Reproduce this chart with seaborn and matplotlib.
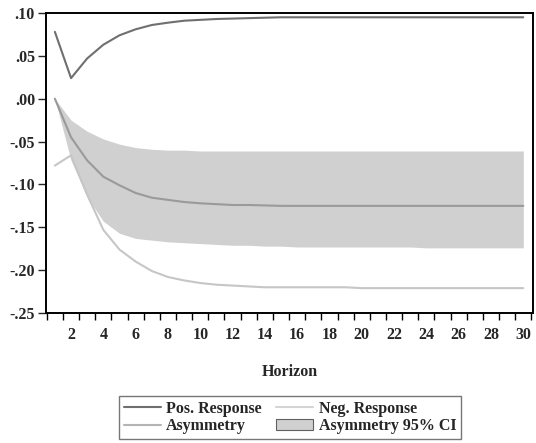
import matplotlib
matplotlib.use("Agg")
import matplotlib.pyplot as plt
from matplotlib.patches import Patch
from matplotlib.lines import Line2D
from matplotlib.ticker import FixedLocator, FuncFormatter
import numpy as np
import pandas as pd
import seaborn as sns

horizon = list(range(1, 31))

pos_response = [0.078, 0.024, 0.047, 0.063, 0.074, 0.081, 0.086, 0.0887, 0.091, 0.092,
                0.093, 0.0935, 0.094, 0.0945, 0.095, 0.095, 0.095, 0.095, 0.095, 0.095,
                0.095, 0.095, 0.095, 0.095, 0.095, 0.095, 0.095, 0.095, 0.095, 0.095]

asymmetry = [0.0, -0.045, -0.072, -0.091, -0.101, -0.110, -0.1155, -0.118, -0.1205, -0.122,
             -0.123, -0.124, -0.124, -0.1245, -0.125, -0.125, -0.125, -0.125, -0.125, -0.125,
             -0.125, -0.125, -0.125, -0.125, -0.125, -0.125, -0.125, -0.125, -0.125, -0.125]

neg_response = [-0.078, -0.066, -0.112, -0.153, -0.176, -0.190, -0.201, -0.208, -0.212, -0.215,
                -0.217, -0.218, -0.219, -0.220, -0.220, -0.220, -0.220, -0.220, -0.220, -0.221,
                -0.221, -0.221, -0.221, -0.221, -0.221, -0.221, -0.221, -0.221, -0.221, -0.221]

ci_upper = [0.0, -0.025, -0.038, -0.047, -0.053, -0.057, -0.059, -0.060, -0.060, -0.061,
            -0.061, -0.061, -0.061, -0.061, -0.061, -0.061, -0.061, -0.061, -0.061, -0.061,
            -0.061, -0.061, -0.061, -0.061, -0.061, -0.061, -0.061, -0.061, -0.061, -0.061]

ci_lower = [0.0, -0.072, -0.115, -0.143, -0.157, -0.163, -0.165, -0.167, -0.168, -0.169,
            -0.170, -0.171, -0.171, -0.172, -0.172, -0.173, -0.173, -0.173, -0.173, -0.173,
            -0.173, -0.173, -0.173, -0.174, -0.174, -0.174, -0.174, -0.174, -0.174, -0.174]

x_tick_labels = [str(v) for v in range(2, 31, 2)]
y_ticks = [0.10, 0.05, 0.00, -0.05, -0.10, -0.15, -0.20, -0.25]

df = pd.DataFrame({
    "Horizon": horizon,
    "Pos. Response": pos_response,
    "Asymmetry": asymmetry,
    "Neg. Response": neg_response,
})

sns.set_style("ticks")
plt.rcParams["font.family"] = ["Liberation Serif", "DejaVu Serif"]
plt.rcParams["font.weight"] = "bold"

c_pos = "#6f6f6f"
c_asym = "#9a9a9a"
c_neg = "#c6c6c6"
c_band = "#d0d0d0"
fs = 11.5

fig = plt.figure(figsize=(5.36, 4.43), dpi=100)
ax = fig.add_axes([46 / 536, 1 - 313 / 443, (533 - 46) / 536, (313 - 13) / 443])

ax.fill_between(horizon, ci_lower, ci_upper, color=c_band, linewidth=0, zorder=1)
sns.lineplot(data=df, x="Horizon", y="Neg. Response", color=c_neg, linewidth=1.5, ax=ax, zorder=2)
sns.lineplot(data=df, x="Horizon", y="Asymmetry", color=c_asym, linewidth=1.5, ax=ax, zorder=3)
sns.lineplot(data=df, x="Horizon", y="Pos. Response", color=c_pos, linewidth=1.5, ax=ax, zorder=4)

ax.set_xlim(0.45, 30.6)
ax.set_ylim(-0.25, 0.10)

# labels at even horizons, tick marks between periods
ax.xaxis.set_major_locator(FixedLocator(list(range(2, 31, 2))))
ax.set_xticklabels(x_tick_labels)
ax.xaxis.set_minor_locator(FixedLocator([v + 0.5 for v in range(0, 31)]))
ax.tick_params(axis="x", which="major", length=0, pad=10, labelsize=fs)
ax.tick_params(axis="x", which="minor", length=5, width=1, direction="out", color="black")

ax.set_yticks(y_ticks)
ax.yaxis.set_major_formatter(FuncFormatter(
    lambda v, p: ("-" if v < -1e-9 else "") + ("%.2f" % abs(v)).lstrip("0")))
ax.tick_params(axis="y", length=6, width=1, direction="out", labelsize=fs, pad=2)

for lab in ax.get_xticklabels() + ax.get_yticklabels():
    lab.set_fontweight("bold")

ax.set_xlabel("Horizon", fontsize=fs, fontweight="bold", labelpad=15)
ax.set_ylabel("")

for side in ["left", "bottom", "top", "right"]:
    ax.spines[side].set_visible(True)
    ax.spines[side].set_linewidth(1.4)
    ax.spines[side].set_color("black")

handles = [
    Line2D([0], [0], color=c_pos, lw=1.5),
    Line2D([0], [0], color="#b4b4b4", lw=1.5),
    Line2D([0], [0], color="#d4d4d4", lw=1.5),
    Patch(facecolor=c_band, edgecolor="#606060", linewidth=0.8),
]
labels = ["Pos. Response", "Asymmetry", "Neg. Response", "Asymmetry 95% CI"]
leg = fig.legend(handles, labels, ncol=2, loc="center",
                 bbox_to_anchor=(290 / 536, 1 - 417.5 / 443),
                 frameon=True, fancybox=False, edgecolor="#555555",
                 prop={"family": "Liberation Serif", "weight": "bold", "size": fs},
                 handlelength=2.3, columnspacing=0.9, labelspacing=0.1,
                 borderpad=0.3, handletextpad=0.35)
leg.get_frame().set_linewidth(1.0)

fig.savefig("out.png", dpi=100)
